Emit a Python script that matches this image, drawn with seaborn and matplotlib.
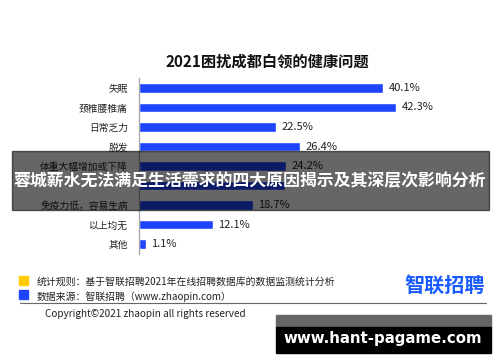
import matplotlib
matplotlib.use("Agg")
import matplotlib.pyplot as plt
from matplotlib.patches import Rectangle
from matplotlib.lines import Line2D
import seaborn as sns
import pandas as pd

# chart data
categories = ["失眠", "颈椎腰椎痛", "日常乏力", "脱发", "体重大幅增加或下降",
              "焦虑抑郁", "免疫力低，容易生病", "以上均无", "其他"]
values = [40.1, 42.3, 22.5, 26.4, 24.2, 24.0, 18.7, 12.1, 1.1]
hidden_row = 5  # covered by the banner in the picture

title = "2021困扰成都白领的健康问题"
banner = "蓉城薪水无法满足生活需求的四大原因揭示及其深层次影响分析"
note_rule = "统计规则：基于智联招聘2021年在线招聘数据库的数据监测统计分析"
note_src = "数据来源：智联招聘（www.zhaopin.com）"
copyright_txt = "Copyright©2021 zhaopin all rights reserved"
watermark = "www.hant-pagame.com"

BLUE = "#1f44ff"
W, H = 500, 362

sns.set_style("white")
plt.rcParams["font.family"] = ["Noto Sans CJK SC", "DejaVu Sans"]


def fx(x):
    return x / W


def fy(y):
    return 1 - y / H


df = pd.DataFrame({"cat": categories, "val": values})

fig = plt.figure(figsize=(5, 3.62), dpi=100)
# axes placed in pixel space: x from 139 px, 6.085 px per percent
ax = fig.add_axes([fx(139), fy(253.75), 50 * 6.085 / W, 175.5 / H])
sns.barplot(data=df, y="cat", x="val", color=BLUE, width=0.5,
            saturation=1, ax=ax, orient="h")
ax.set_xlim(0, 50)
ax.set_ylim(8.5, -0.5)
ax.set_xlabel("")
ax.set_ylabel("")
ax.set_xticks([])
for s in ["top", "right", "bottom"]:
    ax.spines[s].set_visible(False)
ax.spines["left"].set_color("#a6a6a6")
ax.spines["left"].set_linewidth(0.9)
ax.tick_params(axis="y", which="major", length=0, pad=8, labelsize=7,
               labelcolor="#222222")
ax.set_yticks([i - 0.5 for i in range(len(categories) + 1)], minor=True)
ax.tick_params(axis="y", which="minor", length=3, color="#a6a6a6", width=0.9)
labels = [f"{v:.1f}%" if i != hidden_row else "" for i, v in enumerate(values)]
ax.bar_label(ax.containers[0], labels=labels, padding=4, fontsize=8,
             color="#222222")
ax.get_yticklabels()[hidden_row].set_visible(False)

fig.text(fx(267), fy(62), title, ha="center", va="center", fontsize=11,
         fontweight="bold", color="#111111")

# footer
fig.add_artist(Rectangle((fx(19), fy(285)), 9 / W, 9 / H,
                         transform=fig.transFigure, color="#ffcc00"))
fig.add_artist(Rectangle((fx(19), fy(299)), 9 / W, 9 / H,
                         transform=fig.transFigure, color=BLUE))
fig.text(fx(37), fy(282), note_rule, fontsize=7.1, va="center", color="#222222")
fig.text(fx(37), fy(297), note_src, fontsize=7.1, va="center", color="#222222")
fig.text(fx(445), fy(285), "智联招聘", fontsize=14.5, fontweight="bold",
         ha="center", va="center", color="#1a5cff")
fig.add_artist(Line2D([fx(20), fx(486)], [fy(303), fy(303)],
                      transform=fig.transFigure, color="#666666", lw=0.8))
fig.text(fx(45), fy(314), copyright_txt, fontsize=7.2, va="center",
         color="#222222")

# overlay banner
fig.add_artist(Rectangle((fx(12), fy(210)), 477 / W, 59 / H,
                         transform=fig.transFigure, color="black",
                         alpha=0.6, zorder=10))
fig.text(fx(250), fy(181), banner, fontsize=12.2, fontweight="bold",
         ha="center", va="center", color="white", zorder=11)

# watermark box
fig.add_artist(Rectangle((fx(276), fy(327)), 215 / W, 12 / H,
                         transform=fig.transFigure, color="#666666", zorder=10))
fig.add_artist(Rectangle((fx(276), fy(353)), 215 / W, 26 / H,
                         transform=fig.transFigure, color="black", zorder=10))
fig.text(fx(383), fy(339), watermark, fontsize=10.8, fontweight="bold",
         ha="center", va="center", color="white", zorder=11,
         family="DejaVu Sans")

fig.savefig("out.png", dpi=100)
